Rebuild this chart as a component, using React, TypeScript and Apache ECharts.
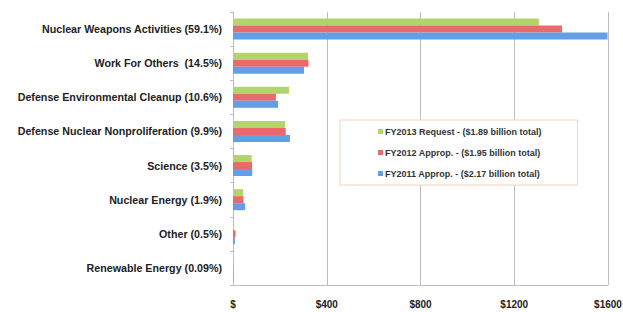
import React, { useEffect, useRef } from "react";
import * as echarts from "echarts";

const categories = [
  "Nuclear Weapons Activities (59.1%)",
  "Work For Others  (14.5%)",
  "Defense Environmental Cleanup (10.6%)",
  "Defense Nuclear Nonproliferation (9.9%)",
  "Science (3.5%)",
  "Nuclear Energy (1.9%)",
  "Other (0.5%)",
  "Renewable Energy (0.09%)",
];
const seriesNames = [
  "FY2013 Request - ($1.89 billion total)",
  "FY2012 Approp. - ($1.95 billion total)",
  "FY2011 Approp. - ($2.17 billion total)",
];
const fy2013 = [1305, 320, 239, 222, 80, 43, 5, 2];
const fy2012 = [1404, 322, 183, 225, 81, 45, 11, 1];
const fy2011 = [1598, 303, 192, 243, 82, 52, 8, 2];
const xTicks = [0, 400, 800, 1200, 1600];

const colors = ["#b1d56c", "#e96a68", "#629fe6"];

export default function App() {
  const ref = useRef<HTMLDivElement>(null);
  useEffect(() => {
    if (!ref.current) return;
    document.body.style.margin = "0";
    document.body.style.overflow = "hidden";
    const chart = echarts.init(ref.current, undefined, { renderer: "svg" });
    const font = "'Liberation Sans', Arial, sans-serif";
    const data = [fy2013, fy2012, fy2011];
    chart.setOption({
      animation: false,
      textStyle: { fontFamily: font },
      grid: { left: 233, right: 15, top: 12, bottom: 27, outerBoundsMode: "none", containLabel: false },
      legend: {
        orient: "vertical",
        left: 340,
        top: 120,
        padding: [7, 36, 7, 38],
        itemGap: 12,
        itemWidth: 5,
        itemHeight: 5,
        icon: "rect",
        borderColor: "#f3d2b8",
        borderWidth: 1,
        backgroundColor: "#ffffff",
        textStyle: { fontSize: 9, fontWeight: "bold", color: "#333", fontFamily: font, padding: [0, 0, 0, -3] },
        data: seriesNames,
      },
      xAxis: {
        type: "value",
        min: 0,
        max: 1600,
        interval: 400,
        axisLine: { show: true, lineStyle: { color: "#bdbdbd" } },
        axisTick: { show: false },
        splitLine: { show: true, lineStyle: { color: "#bdbdbd" } },
        axisLabel: {
          fontSize: 10,
          fontWeight: "bold",
          color: "#222",
          margin: 14,
          customValues: xTicks,
          formatter: (v: number) => (v === 0 ? "$" : "$" + v),
        },
      },
      yAxis: {
        type: "category",
        inverse: true,
        data: categories,
        axisLine: { show: true, lineStyle: { color: "#bdbdbd" } },
        axisTick: { show: true, length: 3, lineStyle: { color: "#bdbdbd" } },
        axisLabel: { fontSize: 10.7, fontWeight: "bold", color: "#222", margin: 11 },
      },
      series: seriesNames.map((name, i) => ({
        name,
        type: "bar",
        data: data[i],
        barWidth: 7,
        barGap: "0%",
        itemStyle: { color: colors[i] },
      })),
    });
    return () => chart.dispose();
  }, []);
  return <div ref={ref} style={{ width: 623, height: 312 }} />;
}
